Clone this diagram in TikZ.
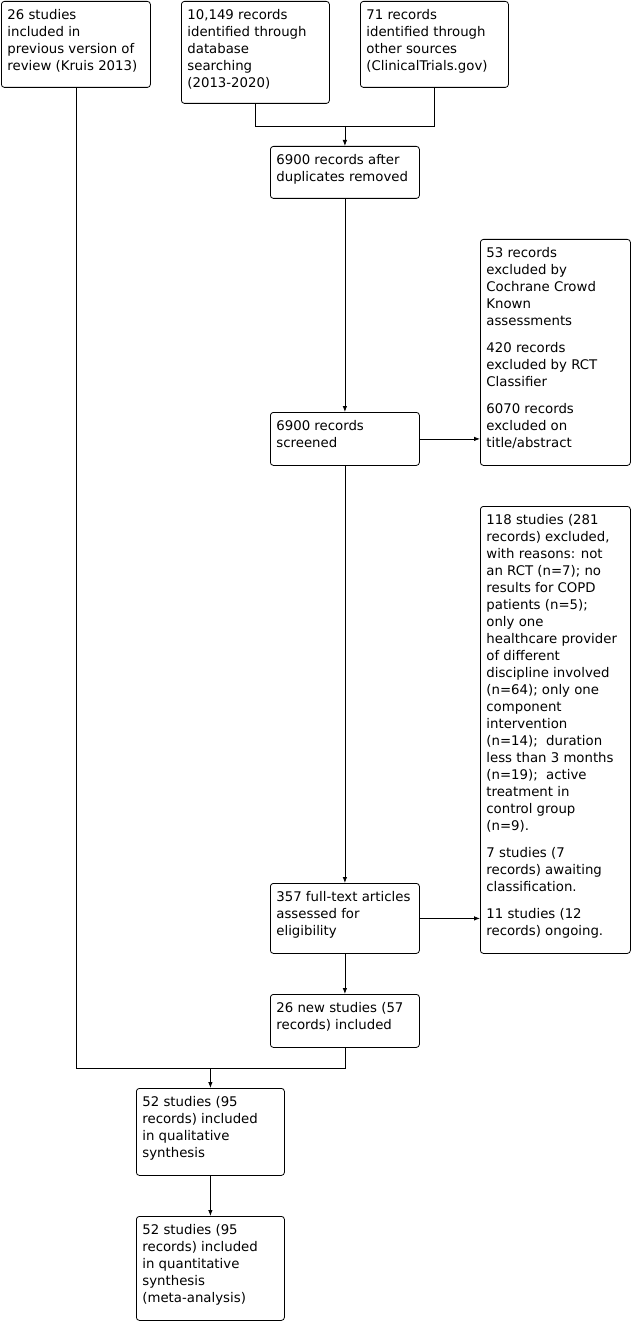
\documentclass[tikz,border=0pt]{standalone}
\usepackage{fontspec}
\setmainfont{DejaVu Sans}
\usetikzlibrary{arrows.meta}

% text block with fixed height, set from the top
\newcommand{\boxtext}[3]{\parbox[c][\dimexpr#2pt-12pt\relax][t]{\dimexpr#1pt-12pt\relax}{\raggedright\strut#3}}

\begin{document}
\begin{tikzpicture}[
    x=1pt, y=-1pt,
    flowbox/.style={draw, line width=0.8pt, rounded corners=3pt, anchor=north west, inner xsep=6pt, inner ysep=6pt, align=left, font=\fontsize{13.3}{17}\selectfont},
    arr/.style={-{Latex[length=6pt,width=4.5pt]}, line width=0.8pt},
    link/.style={line width=0.8pt}
]
\useasboundingbox (0,0) rectangle (632,1321);

\node[flowbox] (prev) at (1,1) {\boxtext{149}{86}{26 studies\\included in\\previous version of\\review (Kruis 2013)}};
\node[flowbox] (db) at (181,1) {\boxtext{148}{102}{10,149 records\\identified through\\database\\searching\\(2013-2020)}};
\node[flowbox] (other) at (360,1) {\boxtext{148}{86}{71 records\\identified through\\other sources\\(ClinicalTrials.gov)}};
\node[flowbox] (dedup) at (270,146) {\boxtext{149}{52}{6900 records after\\duplicates removed}};
\node[flowbox] (screen) at (270,412) {\boxtext{149}{53}{6900 records\\screened}};
\node[flowbox] (exclta) at (480,239) {\boxtext{150}{226}{53 records\\excluded by\\Cochrane Crowd\\Known\\assessments\\[10pt]420 records\\excluded by RCT\\Classifier\\[10pt]6070 records\\excluded on\\title/abstract}};
\node[flowbox] (fulltext) at (270,883) {\boxtext{149}{70}{357 full-text articles\\assessed for\\eligibility}};
\node[flowbox] (exclft) at (480,506) {\boxtext{150}{447}{118 studies (281\\records) excluded,\\with reasons: not\\an RCT (n=7); no\\results for COPD\\patients (n=5);\\only one\\healthcare provider\\of different\\discipline involved\\(n=64); only one\\component\\intervention\\(n=14);~ duration\\less than 3 months\\(n=19);~ active\\treatment in\\control group\\(n=9).\\[10pt]7 studies (7\\records) awaiting\\classification.\\[10pt]11 studies (12\\records) ongoing.}};
\node[flowbox] (newinc) at (270,994) {\boxtext{149}{53}{26 new studies (57\\records) included}};
\node[flowbox] (qual) at (136,1088) {\boxtext{148}{87}{52 studies (95\\records) included\\in qualitative\\synthesis}};
\node[flowbox] (quant) at (136,1216) {\boxtext{148}{104}{52 studies (95\\records) included\\in quantitative\\synthesis\\(meta-analysis)}};

\coordinate (join1) at (dedup.north |- 0,126);
\coordinate (join2) at (qual.north |- 0,1068);

\draw[link] (db.south) |- (join1);
\draw[link] (other.south) |- (join1);
\draw[arr] (join1) -- (dedup.north);
\draw[arr] (dedup.south) -- (screen.north);
\draw[arr] (screen.east) -- (screen.east -| exclta.west);
\draw[arr] (screen.south) -- (fulltext.north);
\draw[arr] (fulltext.east) -- (fulltext.east -| exclft.west);
\draw[arr] (fulltext.south) -- (newinc.north);
\draw[link] (prev.south) |- (join2);
\draw[link] (newinc.south) |- (join2);
\draw[arr] (join2) -- (qual.north);
\draw[arr] (qual.south) -- (quant.north);
\end{tikzpicture}
\end{document}
